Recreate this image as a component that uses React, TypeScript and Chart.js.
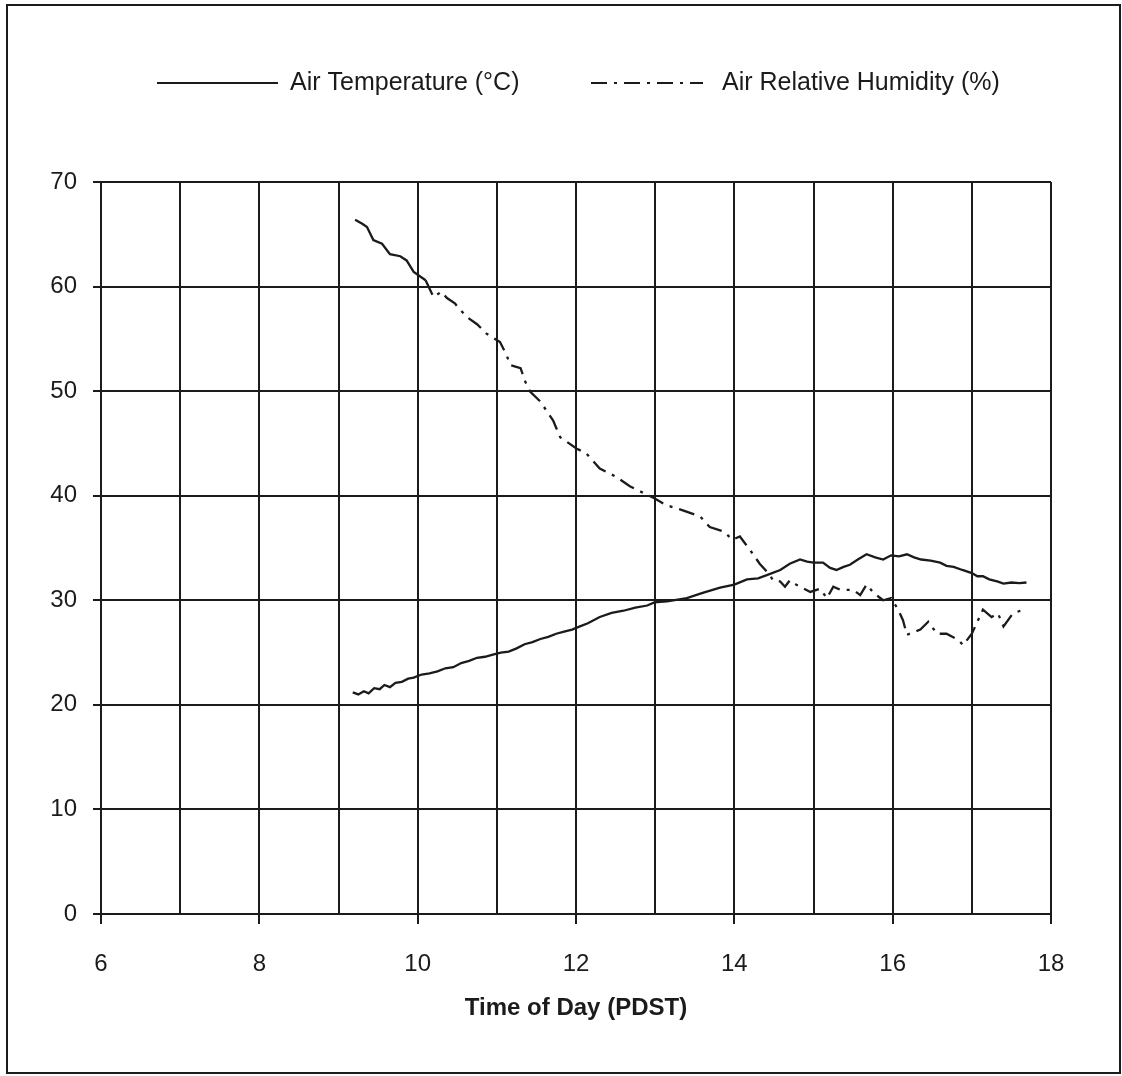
import React, { useEffect, useRef } from "react";
import { Chart, registerables } from "chart.js";

Chart.register(...registerables);

// Air temperature (°C) by time of day (decimal hours, PDST)
const tempHours = [
  9.18, 9.25, 9.32, 9.38, 9.45, 9.52, 9.58, 9.65, 9.72, 9.8, 9.88, 9.95,
  10.05, 10.15, 10.25, 10.35, 10.45, 10.55, 10.65, 10.75, 10.85, 10.95,
  11.05, 11.15, 11.25, 11.35, 11.45, 11.55, 11.65, 11.75, 11.85, 11.95,
  12.05, 12.15, 12.3, 12.45, 12.6, 12.75, 12.9, 12.99, 13.15, 13.4, 13.6,
  13.82, 14.0, 14.16, 14.3, 14.41, 14.58, 14.7, 14.83, 14.92, 15.0, 15.12,
  15.21, 15.29, 15.38, 15.46, 15.56, 15.67, 15.78, 15.88, 15.98, 16.08,
  16.18, 16.27, 16.36, 16.48, 16.6, 16.68, 16.77, 16.88, 17.0, 17.07,
  17.14, 17.22, 17.32, 17.4, 17.5, 17.6, 17.69,
];
const tempValues = [
  21.2, 21.0, 21.3, 21.1, 21.6, 21.5, 21.9, 21.7, 22.1, 22.2, 22.5, 22.6,
  22.9, 23.0, 23.2, 23.5, 23.6, 24.0, 24.2, 24.5, 24.6, 24.8,
  25.0, 25.1, 25.4, 25.8, 26.0, 26.3, 26.5, 26.8, 27.0, 27.2,
  27.5, 27.8, 28.4, 28.8, 29.0, 29.3, 29.5, 29.8, 29.9, 30.2, 30.7,
  31.2, 31.5, 32.0, 32.1, 32.4, 32.9, 33.5, 33.9, 33.7, 33.6, 33.6,
  33.1, 32.9, 33.2, 33.4, 33.9, 34.4, 34.1, 33.9, 34.3, 34.2,
  34.4, 34.1, 33.9, 33.8, 33.6, 33.3, 33.2, 32.9, 32.6, 32.3,
  32.3, 32.0, 31.8, 31.6, 31.7, 31.65, 31.7,
];

// Air relative humidity (%) by time of day
const rhHours = [
  9.21, 9.3, 9.36, 9.44, 9.55, 9.65, 9.78, 9.86, 9.95, 10.1,
  10.2, 10.3, 10.37, 10.47, 10.5, 10.62, 10.75, 10.87, 11.04, 11.12,
  11.17, 11.3, 11.36, 11.42, 11.55, 11.71, 11.8, 12.01, 12.13, 12.3,
  12.51, 12.68, 12.99, 13.14, 13.35, 13.57, 13.69, 13.86, 13.98, 14.07,
  14.2, 14.32, 14.45, 14.49, 14.58, 14.64, 14.7, 14.79, 14.96, 15.08,
  15.17, 15.25, 15.34, 15.5, 15.59, 15.67, 15.76, 15.88, 15.98, 16.07,
  16.13, 16.18, 16.35, 16.45, 16.56, 16.68, 16.83, 16.89, 17.0, 17.14,
  17.25, 17.33, 17.4, 17.52, 17.69,
];
const rhValues = [
  66.4, 66.0, 65.7, 64.45, 64.1, 63.1, 62.9, 62.5, 61.4, 60.6,
  59.0, 59.5, 58.9, 58.4, 58.1, 57.1, 56.4, 55.5, 54.7, 53.5,
  52.5, 52.2, 50.9, 49.95, 49.0, 47.2, 45.6, 44.5, 44.05, 42.6,
  41.8, 40.9, 39.75, 39.1, 38.6, 38.0, 37.0, 36.6, 35.8, 36.1,
  34.8, 33.5, 32.4, 31.9, 31.8, 31.3, 31.9, 31.45, 30.8, 31.1,
  30.2, 31.3, 31.0, 31.0, 30.5, 31.5, 30.7, 30.0, 30.2, 29.1,
  28.1, 26.7, 27.2, 27.95, 26.8, 26.8, 26.2, 25.7, 26.8, 29.1,
  28.4, 28.75, 27.5, 28.75, 29.2,
];

const labeledHours = [6, 8, 10, 12, 14, 16, 18];
const seriesLabels = ["Air Temperature (°C)", "Air Relative Humidity (%)"];
const xTitle = "Time of Day (PDST)";

const INK = "#1b1b1b";
const FONT = "'Liberation Sans', Arial, Helvetica, sans-serif";

// Hand-drawn style legend: a line sample in each dataset's stroke, then its label.
const lineLegend = {
  id: "lineLegend",
  afterDraw(chart: any, _args: any, opts: any) {
    const ctx = chart.ctx as CanvasRenderingContext2D;
    ctx.save();
    chart.data.datasets.forEach((ds: any, i: number) => {
      const item = opts.items[i];
      if (!item) return;
      ctx.beginPath();
      ctx.setLineDash(ds.borderDash || []);
      ctx.lineWidth = opts.lineWidth;
      ctx.strokeStyle = ds.borderColor;
      ctx.moveTo(item.x, opts.y);
      ctx.lineTo(item.x + item.w, opts.y);
      ctx.stroke();
      ctx.setLineDash([]);
      ctx.font = opts.font;
      ctx.fillStyle = INK;
      ctx.textBaseline = "middle";
      ctx.textAlign = "left";
      ctx.fillText(ds.label, item.x + item.w + item.gap, opts.y);
    });
    ctx.restore();
  },
};

// Outer figure frame
const figureFrame = {
  id: "figureFrame",
  beforeDraw(chart: any, _args: any, opts: any) {
    const ctx = chart.ctx as CanvasRenderingContext2D;
    ctx.save();
    ctx.fillStyle = "#ffffff";
    ctx.fillRect(0, 0, chart.width, chart.height);
    ctx.strokeStyle = INK;
    ctx.lineWidth = opts.lineWidth;
    ctx.strokeRect(opts.left, opts.top, opts.right - opts.left, opts.bottom - opts.top);
    ctx.restore();
  },
};

export default function App() {
  const canvasRef = useRef<HTMLCanvasElement | null>(null);

  useEffect(() => {
    if (!canvasRef.current) return;
    const chart = new Chart(canvasRef.current, {
      type: "line",
      data: {
        datasets: [
          {
            label: seriesLabels[0],
            data: tempHours.map((h, i) => ({ x: h, y: tempValues[i] })),
            borderColor: INK,
            borderWidth: 2.3,
            pointRadius: 0,
            tension: 0,
            borderDash: [],
          },
          {
            label: seriesLabels[1],
            data: rhHours.map((h, i) => ({ x: h, y: rhValues[i] })),
            borderColor: INK,
            borderWidth: 2.3,
            pointRadius: 0,
            tension: 0,
            borderDash: [16, 7, 3, 7],
            segment: {
              borderDash: (c: any) =>
                rhHours[c.p1DataIndex] <= 10.1 ? [] : undefined,
            },
          },
        ],
      },
      options: {
        responsive: false,
        maintainAspectRatio: false,
        animation: false,
        events: [],
        layout: { padding: { top: 182, right: 71, bottom: 0, left: 0 } },
        plugins: {
          legend: { display: false },
          tooltip: { enabled: false },
          lineLegend: {
            y: 83,
            lineWidth: 2,
            font: `25px ${FONT}`,
            items: [
              { x: 157, w: 121, gap: 12 },
              { x: 591, w: 112, gap: 19 },
            ],
          },
          figureFrame: { left: 7, top: 5, right: 1120, bottom: 1073, lineWidth: 2 },
        } as any,
        scales: {
          x: {
            type: "linear",
            min: 6,
            max: 18,
            ticks: {
              stepSize: 1,
              autoSkip: false,
              maxRotation: 0,
              padding: 26,
              color: INK,
              font: { family: FONT, size: 24 },
              callback: (v: any) => (labeledHours.includes(Number(v)) ? String(v) : ""),
            },
            grid: {
              color: INK,
              lineWidth: 2,
              tickLength: 10,
              tickWidth: 2,
              tickColor: (c: any) =>
                c.tick && labeledHours.includes(c.tick.value) ? INK : "rgba(0,0,0,0)",
            },
            border: { color: INK, width: 2 },
            title: {
              display: true,
              text: xTitle,
              color: INK,
              font: { family: FONT, size: 24, weight: "bold" },
              padding: { top: 0, bottom: 53 },
            },
            afterFit: (s: any) => {
              s.height = 162;
            },
          },
          y: {
            type: "linear",
            min: 0,
            max: 70,
            ticks: {
              stepSize: 10,
              padding: 16,
              color: INK,
              font: { family: FONT, size: 24 },
            },
            grid: { color: INK, lineWidth: 2, tickLength: 8, tickWidth: 2, tickColor: INK },
            border: { color: INK, width: 2 },
            afterFit: (s: any) => {
              s.width = 101;
            },
          },
        },
      } as any,
      plugins: [lineLegend, figureFrame],
    });
    return () => chart.destroy();
  }, []);

  return (
    <div style={{ position: "fixed", left: 0, top: 0, width: 1122, height: 1076, background: "#fff" }}>
      <canvas
        ref={canvasRef}
        width={1122}
        height={1076}
        style={{ position: "absolute", left: 0, top: 0, display: "block" }}
      />
    </div>
  );
}
